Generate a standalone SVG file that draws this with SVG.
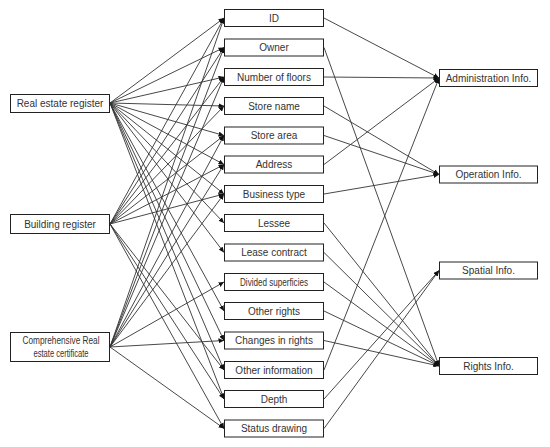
<svg xmlns="http://www.w3.org/2000/svg" width="550" height="447" viewBox="0 0 550 447">
<style>
.box{fill:#fff;stroke:#222;stroke-width:1}
.t{font-family:"Liberation Sans",Arial,sans-serif;font-size:10px;fill:#333;text-anchor:middle}
.e{stroke:#333;stroke-width:0.9;fill:none;marker-end:url(#ah)}
</style>
<defs>
<marker id="ah" markerUnits="userSpaceOnUse" markerWidth="6" markerHeight="5" refX="5.5" refY="2.5" orient="auto">
<path d="M0,0 L5.5,2.5 L0,5 z" fill="#111"/>
</marker>
</defs>
<rect width="550" height="447" fill="#fff"/>
<g id="connectors">
<!-- Real estate register -->
<line class="e" x1="110" y1="103" x2="224" y2="18"/>
<line class="e" x1="110" y1="103" x2="224" y2="47.5"/>
<line class="e" x1="110" y1="103" x2="224" y2="77"/>
<line class="e" x1="110" y1="103" x2="224" y2="106"/>
<line class="e" x1="110" y1="103" x2="224" y2="135.5"/>
<line class="e" x1="110" y1="103" x2="224" y2="164.5"/>
<line class="e" x1="110" y1="103" x2="224" y2="194"/>
<line class="e" x1="110" y1="103" x2="224" y2="223"/>
<line class="e" x1="110" y1="103" x2="224" y2="252.5"/>
<line class="e" x1="110" y1="103" x2="224" y2="311"/>
<line class="e" x1="110" y1="103" x2="224" y2="340.5"/>
<line class="e" x1="110" y1="103" x2="224" y2="370"/>
<line class="e" x1="110" y1="103" x2="224" y2="399"/>
<!-- Building register -->
<line class="e" x1="110" y1="224" x2="224" y2="18"/>
<line class="e" x1="110" y1="224" x2="224" y2="47.5"/>
<line class="e" x1="110" y1="224" x2="224" y2="77"/>
<line class="e" x1="110" y1="224" x2="224" y2="106"/>
<line class="e" x1="110" y1="224" x2="224" y2="135.5"/>
<line class="e" x1="110" y1="224" x2="224" y2="164.5"/>
<line class="e" x1="110" y1="224" x2="224" y2="194"/>
<line class="e" x1="110" y1="224" x2="224" y2="370"/>
<line class="e" x1="110" y1="224" x2="224" y2="399"/>
<line class="e" x1="110" y1="224" x2="224" y2="428.5"/>
<!-- Comprehensive -->
<line class="e" x1="110" y1="347" x2="224" y2="18"/>
<line class="e" x1="110" y1="347" x2="224" y2="47.5"/>
<line class="e" x1="110" y1="347" x2="224" y2="77"/>
<line class="e" x1="110" y1="347" x2="224" y2="135.5"/>
<line class="e" x1="110" y1="347" x2="224" y2="164.5"/>
<line class="e" x1="110" y1="347" x2="224" y2="194"/>
<line class="e" x1="110" y1="347" x2="224" y2="282"/>
<line class="e" x1="110" y1="347" x2="224" y2="340.5"/>
<line class="e" x1="110" y1="347" x2="224" y2="428.5"/>
<!-- middle to right -->
<line class="e" x1="324" y1="18" x2="439" y2="78"/>
<line class="e" x1="324" y1="77" x2="439" y2="78"/>
<line class="e" x1="324" y1="164.5" x2="439" y2="78"/>
<line class="e" x1="324" y1="370" x2="439" y2="78"/>
<line class="e" x1="324" y1="106" x2="439" y2="174.5"/>
<line class="e" x1="324" y1="135.5" x2="439" y2="174.5"/>
<line class="e" x1="324" y1="194" x2="439" y2="174.5"/>
<line class="e" x1="324" y1="399" x2="439" y2="270.5"/>
<line class="e" x1="324" y1="428.5" x2="439" y2="270.5"/>
<line class="e" x1="324" y1="47.5" x2="439" y2="366"/>
<line class="e" x1="324" y1="223" x2="439" y2="366"/>
<line class="e" x1="324" y1="252.5" x2="439" y2="366"/>
<line class="e" x1="324" y1="282" x2="439" y2="366"/>
<line class="e" x1="324" y1="311" x2="439" y2="366"/>
<line class="e" x1="324" y1="340.5" x2="439" y2="366"/>
</g>
<g id="src1"><rect class="box" x="10.5" y="94.5" width="99" height="18"/><text class="t" x="60" y="107">Real estate register</text></g>
<g id="src2"><rect class="box" x="10.5" y="214.5" width="99" height="19"/><text class="t" x="60" y="227.5">Building register</text></g>
<g id="src3"><rect class="box" x="10.5" y="332.5" width="99" height="29"/><text class="t" x="61" y="344" textLength="77" lengthAdjust="spacingAndGlyphs">Comprehensive Real</text><text class="t" x="61" y="356.5" textLength="55" lengthAdjust="spacingAndGlyphs">estate certificate</text></g>
<g id="m0"><rect class="box" x="224.5" y="9.5" width="99" height="17"/><text class="t" x="274" y="21.5">ID</text></g>
<g id="m1"><rect class="box" x="224.5" y="39" width="99" height="17"/><text class="t" x="274" y="51">Owner</text></g>
<g id="m2"><rect class="box" x="224.5" y="68.5" width="99" height="17"/><text class="t" x="274" y="80.5">Number of floors</text></g>
<g id="m3"><rect class="box" x="224.5" y="97.5" width="99" height="17"/><text class="t" x="274" y="109.5">Store name</text></g>
<g id="m4"><rect class="box" x="224.5" y="127" width="99" height="17"/><text class="t" x="274" y="139">Store area</text></g>
<g id="m5"><rect class="box" x="224.5" y="156" width="99" height="17"/><text class="t" x="274" y="168">Address</text></g>
<g id="m6"><rect class="box" x="224.5" y="185.5" width="99" height="17"/><text class="t" x="274" y="197.5">Business type</text></g>
<g id="m7"><rect class="box" x="224.5" y="214.5" width="99" height="17"/><text class="t" x="274" y="226.5">Lessee</text></g>
<g id="m8"><rect class="box" x="224.5" y="244" width="99" height="17"/><text class="t" x="274" y="256">Lease contract</text></g>
<g id="m9"><rect class="box" x="224.5" y="273.5" width="99" height="17"/><text class="t" x="274" y="285.5" textLength="68" lengthAdjust="spacingAndGlyphs">Divided superficies</text></g>
<g id="m10"><rect class="box" x="224.5" y="302.5" width="99" height="17"/><text class="t" x="274" y="314.5">Other rights</text></g>
<g id="m11"><rect class="box" x="224.5" y="332" width="99" height="17"/><text class="t" x="274" y="344">Changes in rights</text></g>
<g id="m12"><rect class="box" x="224.5" y="361.5" width="99" height="17"/><text class="t" x="274" y="373.5">Other information</text></g>
<g id="m13"><rect class="box" x="224.5" y="390.5" width="99" height="17"/><text class="t" x="274" y="402.5">Depth</text></g>
<g id="m14"><rect class="box" x="224.5" y="420" width="99" height="17"/><text class="t" x="274" y="432">Status drawing</text></g>
<g id="r1"><rect class="box" x="439.5" y="69.5" width="98" height="17"/><text class="t" x="488.5" y="81.5">Administration Info.</text></g>
<g id="r2"><rect class="box" x="439.5" y="166" width="98" height="17"/><text class="t" x="488.5" y="178">Operation Info.</text></g>
<g id="r3"><rect class="box" x="439.5" y="262" width="98" height="17"/><text class="t" x="488.5" y="274">Spatial Info.</text></g>
<g id="r4"><rect class="box" x="439.5" y="357.5" width="98" height="17"/><text class="t" x="488.5" y="369.5">Rights Info.</text></g>
</svg>
